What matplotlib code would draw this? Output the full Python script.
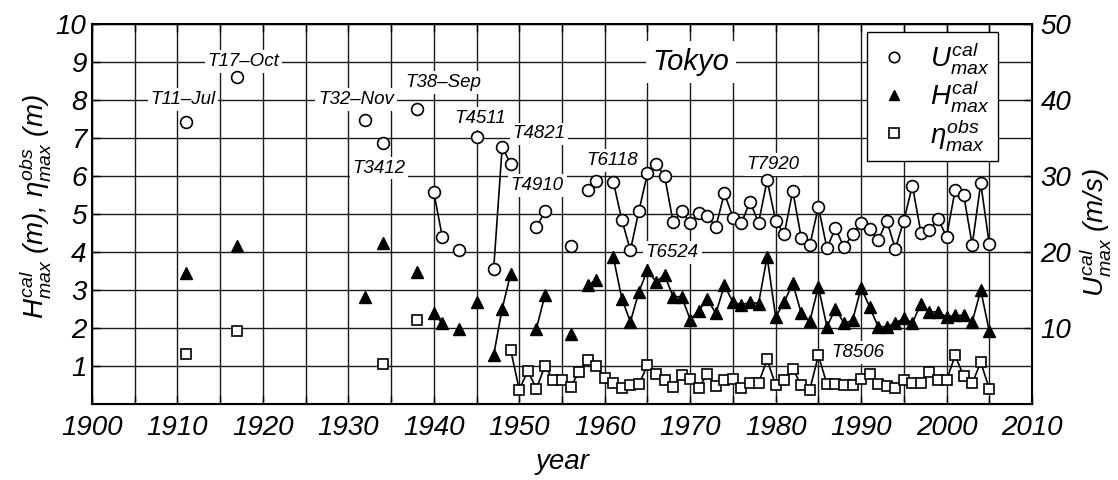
import matplotlib
matplotlib.use("Agg")
import matplotlib.pyplot as plt
from matplotlib.lines import Line2D
from matplotlib.ticker import MultipleLocator
import numpy as np
import pandas as pd

# ── Data ─────────────────────────────────────────────────────────────────────

FULL_YEARS = range(1911, 2006)

u_years = [1911, 1917, 1932, 1934, 1938, 1940, 1941, 1943, 1945, 1947, 1948, 1949,
           1952, 1953, 1956, 1958, 1959] + list(range(1961, 2006))
u_cal = [37.0, 43.0, 37.3, 34.3, 38.8, 27.8, 21.9, 20.3, 35.1, 17.7, 33.8, 31.5,
         23.2, 25.3, 20.7, 28.1, 29.3,
         29.2, 24.2, 20.2, 25.4, 30.3, 31.5, 30.0, 23.9, 25.3,              # 1961-69
         23.8, 25.1, 24.7, 23.3, 27.7, 24.5, 23.8, 26.6, 23.8, 29.4,        # 1970-79
         24.1, 22.3, 28.0, 21.8, 20.9, 25.9, 20.5, 23.1, 20.6, 22.3,        # 1980-89
         23.8, 23.0, 21.5, 24.1, 20.4, 24.1, 28.7, 22.5, 22.9, 24.3,        # 1990-99
         22.0, 28.1, 27.5, 20.9, 29.0, 21.0]                                # 2000-05

h_years = u_years
h_cal = [3.45, 4.15, 2.82, 4.22, 3.47, 2.38, 2.12, 1.98, 2.68, 1.28, 2.51, 3.43,
         1.98, 2.86, 1.85, 3.12, 3.26,
         3.87, 2.77, 2.16, 2.95, 3.52, 3.21, 3.39, 2.82, 2.82,              # 1961-69
         2.22, 2.45, 2.76, 2.38, 3.12, 2.68, 2.60, 2.68, 2.64, 3.87,        # 1970-79
         2.29, 2.68, 3.17, 2.38, 2.18, 3.08, 2.03, 2.51, 2.12, 2.20,        # 1980-89
         3.06, 2.55, 2.03, 2.03, 2.13, 2.25, 2.13, 2.64, 2.42, 2.42,        # 1990-99
         2.29, 2.33, 2.33, 2.16, 2.99, 1.91]                                # 2000-05

eta_years = [1911, 1917, 1934, 1938] + list(range(1949, 2006))
eta_obs = [1.31, 1.91, 1.04, 2.20,
           1.41,                                                            # 1949
           0.38, 0.87, 0.40, 1.00, 0.62, 0.64, 0.45, 0.84, 1.15, 1.00,      # 1950-59
           0.69, 0.55, 0.43, 0.49, 0.52, 1.02, 0.78, 0.62, 0.45, 0.75,      # 1960-69
           0.67, 0.43, 0.78, 0.47, 0.64, 0.67, 0.43, 0.55, 0.55, 1.17,      # 1970-79
           0.49, 0.62, 0.93, 0.49, 0.38, 1.28, 0.52, 0.52, 0.49, 0.49,      # 1980-89
           0.67, 0.80, 0.52, 0.47, 0.43, 0.62, 0.55, 0.55, 0.84, 0.62,      # 1990-99
           0.62, 1.28, 0.73, 0.54, 1.10, 0.40]                              # 2000-05

storm_labels = ["T11\u2013Jul", "T17\u2013Oct", "T32\u2013Nov", "T3412", "T38\u2013Sep",
                "T4511", "T4821", "T4910", "T6118", "T6524", "T7920", "T8506"]
label_pos = [(1910.65, 8.0), (1917.7, 9.0), (1930.9, 8.0), (1933.6, 6.2), (1941.1, 8.45),
             (1945.4, 7.5), (1952.3, 7.1), (1952.1, 5.75), (1960.9, 6.4), (1967.9, 3.98),
             (1979.7, 6.3), (1989.6, 1.35)]

# ── Style ─────────────────────────────────────────────────────────────────────

plt.rcParams["font.family"] = ["Liberation Sans", "DejaVu Sans"]
plt.rcParams["font.style"] = "italic"
plt.rcParams["mathtext.fontset"] = "custom"
plt.rcParams["mathtext.it"] = "Liberation Sans:italic"
plt.rcParams["mathtext.rm"] = "Liberation Sans:italic"
plt.rcParams["mathtext.default"] = "it"

GRID = "#1a1a1a"


def _gapped(years, values):
    # missing years -> NaN so the line breaks there
    return pd.Series(values, index=years, dtype=float).reindex(FULL_YEARS)


u_s = _gapped(u_years, u_cal)
h_s = _gapped(h_years, h_cal)
e_s = _gapped(eta_years, eta_obs)

fig = plt.figure(figsize=(11.18, 4.8), dpi=100, facecolor="white")
ax = fig.add_axes([0.0823, 0.1583, 0.8408, 0.7927])
ax2 = ax.twinx()

# ── Left axis: heights ───────────────────────────────────────────────────────
ax.plot(h_s.index, h_s.values, color="black", lw=1.2, marker="^", ms=8,
        mfc="black", mec="black", zorder=4)
ax.plot(e_s.index, e_s.values, color="black", lw=1.2, marker="s", ms=6.5,
        mfc="white", mec="black", mew=1.2, zorder=4)

ax.set_xlim(1900, 2010)
ax.set_ylim(0, 10)
ax.xaxis.set_major_locator(MultipleLocator(10))
ax.xaxis.set_minor_locator(MultipleLocator(5))
ax.set_yticks(range(1, 11))
ax.grid(True, which="both", color=GRID, lw=1.0)
ax.tick_params(which="both", direction="in", top=True, length=6, width=1)
ax.tick_params(axis="x", labelsize=20, pad=8)
ax.tick_params(axis="y", labelsize=20, pad=4)
for spine in ax.spines.values():
    spine.set_linewidth(1.5)

ax.set_xlabel("year", fontsize=20)
ax.xaxis.set_label_coords(0.5, -0.118)
ax.set_ylabel(r"$H^{cal}_{max}$ (m), $\eta^{obs}_{max}$ (m)", fontsize=20)
ax.yaxis.set_label_coords(-0.041, 0.52)

# ── Right axis: wind speed ───────────────────────────────────────────────────
ax2.plot(u_s.index, u_s.values, color="black", lw=1.2, marker="o", ms=8.5,
         mfc="white", mec="black", mew=1.2, zorder=4)
ax2.set_ylim(0, 50)
ax2.set_yticks(range(10, 51, 10))
ax2.tick_params(direction="in", length=6, width=1, labelsize=20, pad=6)
ax2.set_ylabel(r"$U^{cal}_{max}$ (m/s)", fontsize=20, rotation=90)
ax2.yaxis.set_label_coords(1.048, 0.45)

# ── Annotations ──────────────────────────────────────────────────────────────
box = dict(facecolor="white", edgecolor="none", pad=2)
for text, (x, y) in zip(storm_labels, label_pos):
    ax.text(x, y, text, fontsize=13.5, ha="center", va="center", bbox=box, zorder=3)
ax.text(1970.1, 9.0, "Tokyo", fontsize=21, ha="center", va="center",
        bbox=dict(facecolor="white", edgecolor="none", pad=5), zorder=3)

handles = [
    Line2D([], [], ls="none", marker="o", ms=7.5, mfc="white", mec="black", mew=1.2),
    Line2D([], [], ls="none", marker="^", ms=7.5, mfc="black", mec="black"),
    Line2D([], [], ls="none", marker="s", ms=6.5, mfc="white", mec="black", mew=1.2),
]
labels = [r"$U^{cal}_{max}$", r"$H^{cal}_{max}$", r"$\eta^{obs}_{max}$"]
leg = ax2.legend(handles, labels, loc="upper right", bbox_to_anchor=(0.964, 0.978),
                 fontsize=20, frameon=True, fancybox=False, framealpha=1,
                 edgecolor="black", borderpad=0.3, labelspacing=0.08,
                 handletextpad=0.6, handlelength=1.4, borderaxespad=0)
leg.get_frame().set_linewidth(1.0)
leg.set_zorder(10)

fig.savefig("out.png", dpi=100, facecolor="white")
